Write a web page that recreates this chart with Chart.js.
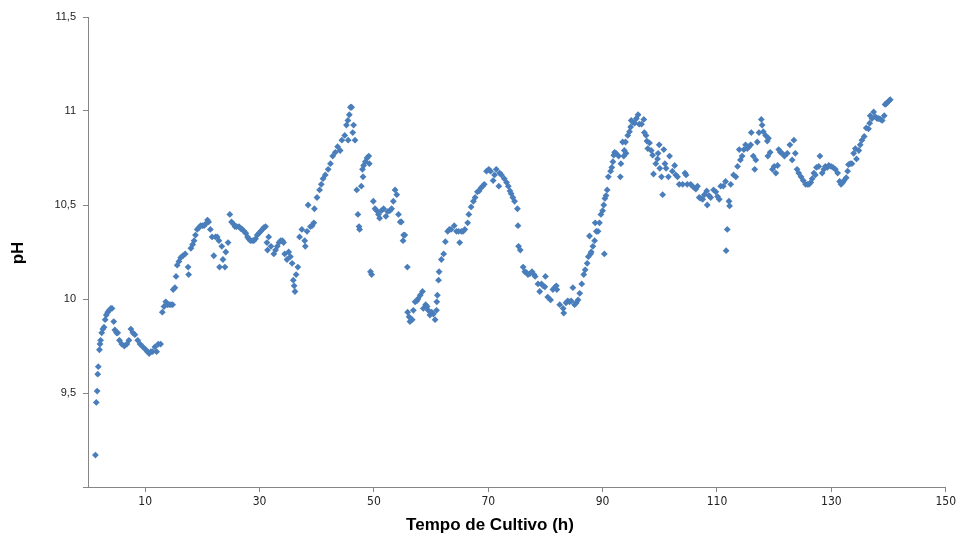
<!DOCTYPE html>
<html>
<head>
<meta charset="utf-8">
<script src="https://cdn.jsdelivr.net/npm/chart.js@4"></script>
<style>
  html, body { margin: 0; padding: 0; background: #fff; }
  #wrap { width: 959px; height: 538px; }
</style>
</head>
<body>
<div id="wrap"><canvas id="chart" width="959" height="538"></canvas></div>
<script>
// tempo de cultivo (h) e pH
const timeH = [
  1.3, 1.45, 1.6, 1.7, 1.8, 2.0, 2.1, 2.2, 2.4, 2.6, 2.8, 3.0, 3.2, 3.45, 3.7, 4.0, 4.2, 4.5, 4.7, 5.0,
  5.2, 5.5, 5.9, 6.35, 6.8, 7.15, 7.5, 7.85, 8.2, 8.7, 9.1, 9.6, 10.1, 10.4, 10.7, 11.0, 11.3, 11.7, 12.0, 12.3,
  12.7, 13.0, 13.3, 13.6, 13.9, 14.2, 14.5, 14.8, 14.9, 15.2, 15.4, 15.6, 15.9, 16.2, 16.6, 17.0, 17.5, 17.6, 18.0, 18.3,
  18.55, 18.8, 19.1, 19.4, 19.7, 20.0, 20.3, 20.6, 20.9, 21.1, 21.4, 21.7, 22.0, 22.3, 22.6, 22.9, 23.0, 23.4, 23.6, 23.95,
  24.1, 24.5, 24.8, 25.1, 25.4, 25.7, 26.0, 26.4, 26.7, 27.0, 27.3, 27.6, 27.9, 28.1, 28.4, 28.7, 29.0, 29.3, 29.6, 29.9,
  30.2, 30.5, 30.75, 31.05, 31.3, 31.4, 31.6, 32.0, 32.5, 32.8, 33.1, 33.4, 33.7, 34.0, 34.2, 34.4, 34.8, 35.1, 35.4, 35.7,
  35.9, 36.05, 36.2, 36.4, 36.7, 37.0, 37.4, 37.9, 38.0, 38.3, 38.5, 38.9, 39.2, 39.5, 39.6, 40.05, 40.5, 40.8, 41.1, 41.5,
  42.0, 42.4, 42.8, 43.25, 43.65, 44.1, 44.4, 44.9, 45.2, 45.45, 45.5, 45.7, 45.9, 46.1, 46.3, 46.45, 46.7, 47.0, 47.2, 47.4,
  47.5, 47.8, 48.0, 48.1, 48.2, 48.5, 48.8, 49.1, 49.2, 49.4, 49.6, 49.9, 50.2, 50.5, 50.8, 51.0, 51.3, 51.7, 52.1, 52.4,
  52.8, 53.1, 53.4, 53.7, 54.0, 54.3, 54.6, 54.8, 55.1, 55.2, 55.4, 55.85, 55.9, 56.15, 56.3, 56.7, 56.9, 57.2, 57.5, 57.7,
  58.1, 58.5, 58.65, 59.05, 59.3, 59.5, 59.8, 60.1, 60.4, 60.7, 60.95, 61.0, 61.1, 61.3, 61.4, 61.8, 62.2, 62.5, 62.9, 63.2,
  63.5, 64.05, 64.45, 64.8, 65.0, 65.3, 65.6, 65.9, 66.4, 66.6, 67.0, 67.4, 67.7, 68.1, 68.4, 68.7, 69.0, 69.3, 69.7, 70.1,
  70.4, 70.85, 71.1, 71.4, 71.85, 72.0, 72.3, 72.8, 73.2, 73.5, 73.8, 74.0, 74.3, 74.6, 75.1, 75.2, 75.3, 75.6, 76.1, 76.4,
  76.7, 76.95, 77.3, 77.65, 78.0, 78.2, 78.7, 79.0, 79.3, 79.6, 79.9, 80.0, 80.4, 80.9, 81.3, 81.6, 81.9, 82.0, 82.5, 83.1,
  83.2, 83.6, 83.9, 84.2, 84.5, 84.8, 85.1, 85.4, 85.7, 86.0, 86.35, 86.7, 86.95, 87.3, 87.5, 87.7, 87.9, 88.0, 88.3, 88.6,
  88.7, 88.9, 89.2, 89.45, 89.7, 90.0, 90.2, 90.3, 90.4, 90.6, 90.8, 91.0, 91.4, 91.6, 91.8, 91.95, 92.1, 92.35, 92.8, 93.1,
  93.2, 93.5, 93.7, 93.8, 94.0, 94.1, 94.4, 94.7, 94.9, 95.0, 95.3, 95.6, 95.9, 96.2, 96.4, 96.8, 97.2, 97.3, 97.6, 97.75,
  97.9, 98.2, 98.5, 98.75, 98.9, 99.3, 99.6, 99.7, 99.9, 100.0, 100.3, 100.5, 100.7, 100.9, 101.1, 101.5, 101.7, 102.2, 102.6, 102.8,
  103.1, 103.4, 104.0, 104.4, 104.6, 104.8, 105.4, 105.9, 106.3, 106.6, 106.9, 107.2, 107.5, 107.8, 108.2, 108.3, 108.6, 108.9, 109.4, 109.8,
  110.1, 110.4, 110.65, 111.1, 111.5, 111.6, 111.8, 112.1, 112.2, 112.4, 112.9, 113.3, 113.6, 113.9, 114.1, 114.4, 114.7, 115.0, 115.3, 115.6,
  115.9, 116.0, 116.35, 116.6, 116.8, 117.05, 117.35, 117.75, 117.9, 118.1, 118.5, 118.8, 118.9, 119.0, 119.3, 119.7, 120.0, 120.3, 120.6, 120.8,
  121.1, 121.4, 121.8, 122.3, 122.75, 123.15, 123.45, 123.7, 124.0, 124.3, 124.7, 125.1, 125.5, 125.8, 126.1, 126.4, 126.65, 126.95, 127.2, 127.4,
  127.8, 128.0, 128.4, 128.7, 128.95, 129.3, 129.55, 129.95, 130.3, 130.7, 131.1, 131.45, 131.7, 132.0, 132.2, 132.6, 132.85, 133.0, 133.3, 133.6,
  133.9, 134.2, 134.4, 134.8, 135.05, 135.35, 135.75, 136.1, 136.5, 136.7, 136.8, 137.1, 137.4, 137.7, 138.0, 138.3, 138.6, 138.9, 139.25, 139.4,
  139.6, 139.8, 140.1, 140.3
];
const phValues = [
  9.17, 9.45, 9.51, 9.60, 9.64, 9.73, 9.76, 9.78, 9.82, 9.84, 9.85, 9.89, 9.915, 9.93, 9.94, 9.95, 9.95, 9.88, 9.835, 9.82,
  9.82, 9.78, 9.76, 9.75, 9.76, 9.78, 9.84, 9.82, 9.81, 9.78, 9.76, 9.745, 9.73, 9.72, 9.71, 9.72, 9.72, 9.745, 9.72, 9.76,
  9.76, 9.93, 9.96, 9.985, 9.97, 9.97, 9.97, 9.97, 10.05, 10.06, 10.12, 10.18, 10.20, 10.22, 10.23, 10.24, 10.17, 10.13, 10.27, 10.29,
  10.31, 10.34, 10.37, 10.38, 10.39, 10.39, 10.39, 10.40, 10.42, 10.41, 10.37, 10.33, 10.23, 10.33, 10.33, 10.31, 10.17, 10.28, 10.21, 10.17,
  10.25, 10.30, 10.45, 10.41, 10.40, 10.385, 10.385, 10.385, 10.375, 10.37, 10.36, 10.35, 10.33, 10.32, 10.31, 10.31, 10.31, 10.32, 10.34, 10.35,
  10.36, 10.37, 10.38, 10.385, 10.30, 10.26, 10.33, 10.28, 10.24, 10.26, 10.28, 10.30, 10.31, 10.31, 10.30, 10.24, 10.21, 10.25, 10.225, 10.19,
  10.10, 10.07, 10.04, 10.13, 10.17, 10.33, 10.37, 10.31, 10.28, 10.36, 10.50, 10.385, 10.39, 10.405, 10.48, 10.54, 10.58, 10.61, 10.64, 10.66,
  10.69, 10.72, 10.76, 10.78, 10.81, 10.79, 10.845, 10.87, 10.925, 10.95, 10.845, 10.98, 11.02, 11.02, 10.885, 10.925, 10.845, 10.58, 10.45, 10.385,
  10.37, 10.60, 10.69, 10.65, 10.71, 10.73, 10.75, 10.76, 10.72, 10.145, 10.13, 10.52, 10.48, 10.47, 10.45, 10.43, 10.47, 10.48, 10.44, 10.465,
  10.47, 10.48, 10.52, 10.58, 10.555, 10.45, 10.41, 10.41, 10.31, 10.34, 10.34, 10.17, 9.93, 9.905, 9.88, 9.89, 9.94, 9.985, 9.99, 10.0,
  10.02, 10.04, 9.95, 9.97, 9.96, 9.94, 9.915, 9.93, 9.92, 9.89, 9.94, 9.985, 10.02, 10.10, 10.145, 10.21, 10.24, 10.305, 10.36, 10.37,
  10.37, 10.39, 10.36, 10.36, 10.30, 10.36, 10.36, 10.37, 10.405, 10.45, 10.49, 10.52, 10.54, 10.57, 10.575, 10.59, 10.60, 10.61, 10.68, 10.69,
  10.68, 10.63, 10.66, 10.69, 10.60, 10.67, 10.66, 10.64, 10.62, 10.60, 10.575, 10.56, 10.54, 10.52, 10.48, 10.39, 10.28, 10.26, 10.17, 10.145,
  10.14, 10.13, 10.135, 10.145, 10.13, 10.12, 10.08, 10.04, 10.08, 10.07, 10.065, 10.12, 10.01, 9.995, 10.05, 10.06, 10.07, 10.05, 9.97, 9.95,
  9.925, 9.98, 9.99, 9.985, 9.99, 10.06, 9.97, 9.98, 9.995, 10.03, 10.08, 10.13, 10.155, 10.19, 10.225, 10.335, 10.24, 10.25, 10.28, 10.31,
  10.405, 10.36, 10.36, 10.405, 10.45, 10.47, 10.50, 10.24, 10.535, 10.55, 10.58, 10.65, 10.68, 10.70, 10.73, 10.765, 10.78, 10.775, 10.76, 10.65,
  10.72, 10.835, 10.76, 10.79, 10.835, 10.775, 10.87, 10.89, 10.915, 10.95, 10.94, 10.935, 10.96, 10.98, 10.93, 10.93, 10.955, 10.885, 10.87, 10.84,
  10.80, 10.83, 10.79, 10.765, 10.665, 10.72, 10.745, 10.775, 10.82, 10.695, 10.65, 10.555, 10.795, 10.72, 10.695, 10.65, 10.76, 10.68, 10.71, 10.66,
  10.65, 10.61, 10.61, 10.67, 10.66, 10.61, 10.61, 10.595, 10.585, 10.60, 10.54, 10.535, 10.53, 10.555, 10.575, 10.50, 10.55, 10.54, 10.58, 10.57,
  10.545, 10.53, 10.60, 10.60, 10.625, 10.257, 10.37, 10.52, 10.495, 10.61, 10.66, 10.65, 10.705, 10.795, 10.74, 10.76, 10.795, 10.82, 10.80, 10.81,
  10.82, 10.885, 10.76, 10.69, 10.74, 10.835, 10.885, 10.955, 10.925, 10.89, 10.87, 10.84, 10.76, 10.855, 10.78, 10.69, 10.705, 10.67, 10.71, 10.795,
  10.78, 10.775, 10.76, 10.775, 10.82, 10.74, 10.845, 10.775, 10.69, 10.67, 10.65, 10.63, 10.61, 10.61, 10.61, 10.62, 10.64, 10.67, 10.66, 10.70,
  10.705, 10.76, 10.67, 10.69, 10.705, 10.70, 10.71, 10.705, 10.70, 10.69, 10.67, 10.625, 10.61, 10.62, 10.63, 10.645, 10.68, 10.715, 10.72, 10.72,
  10.775, 10.80, 10.745, 10.79, 10.82, 10.845, 10.865, 10.91, 10.905, 10.935, 10.975, 10.96, 10.995, 10.97, 10.96, 10.96, 10.955, 10.95, 10.975, 11.035,
  11.04, 11.045, 11.055, 11.06
];
const xTicks = [10, 30, 50, 70, 90, 110, 130, 150];
const yTicks = [9, 9.5, 10, 10.5, 11, 11.5];

const axisColor = '#868686';
const points = timeH.map((t, i) => ({ x: t, y: phValues[i] }));

// títulos dos eixos desenhados na posição do original
const axisTitles = {
    id: 'axisTitles',
    afterDraw(chart) {
        const ctx = chart.ctx;
        ctx.save();
        ctx.fillStyle = '#000';
        ctx.font = 'bold 17px "Liberation Sans", Arial, sans-serif';
        ctx.textAlign = 'center';
        ctx.textBaseline = 'middle';
        ctx.fillText('Tempo de Cultivo (h)', 490, 525);
        ctx.translate(18, 253);
        ctx.rotate(-Math.PI / 2);
        ctx.fillText('pH', 0, 0);
        ctx.restore();
    }
};

new Chart(document.getElementById('chart'), {
    type: 'scatter',
    data: {
        datasets: [{
            label: 'pH',
            data: points,
            pointStyle: 'rectRot',
            pointRadius: 3.4,
            pointHoverRadius: 3.4,
            backgroundColor: '#4A7EBB',
            borderColor: '#4A7EBB',
            borderWidth: 0
        }]
    },
    options: {
        responsive: false,
        animation: false,
        layout: { padding: { left: 0, right: 10, top: 17, bottom: 0 } },
        plugins: {
            legend: { display: false },
            tooltip: { enabled: false }
        },
        scales: {
            x: {
                type: 'linear',
                min: 0,
                max: 150,
                afterBuildTicks: (scale) => { scale.ticks = xTicks.map(v => ({ value: v })); },
                afterFit: (scale) => { scale.height = 51; },
                border: { color: axisColor, width: 1 },
                grid: { display: true, drawOnChartArea: false, drawTicks: true, tickLength: 5, color: axisColor },
                ticks: {
                    padding: 3,
                    color: '#222',
                    font: { family: '"Liberation Sans Narrow", "DejaVu Sans Condensed", sans-serif', size: 12 }
                }
            },
            y: {
                type: 'linear',
                min: 9,
                max: 11.5,
                afterBuildTicks: (scale) => { scale.ticks = yTicks.map(v => ({ value: v })); },
                afterFit: (scale) => { scale.width = 88; },
                border: { color: axisColor, width: 1 },
                grid: { display: true, drawOnChartArea: false, drawTicks: true, tickLength: 5, color: axisColor },
                ticks: {
                    padding: 7,
                    color: '#222',
                    font: { family: '"Liberation Sans", Arial, sans-serif', size: 11 },
                    callback: (v) => v === 9 ? '' : String(v).replace('.', ',')
                }
            }
        }
    },
    plugins: [axisTitles]
});
</script>
</body>
</html>
